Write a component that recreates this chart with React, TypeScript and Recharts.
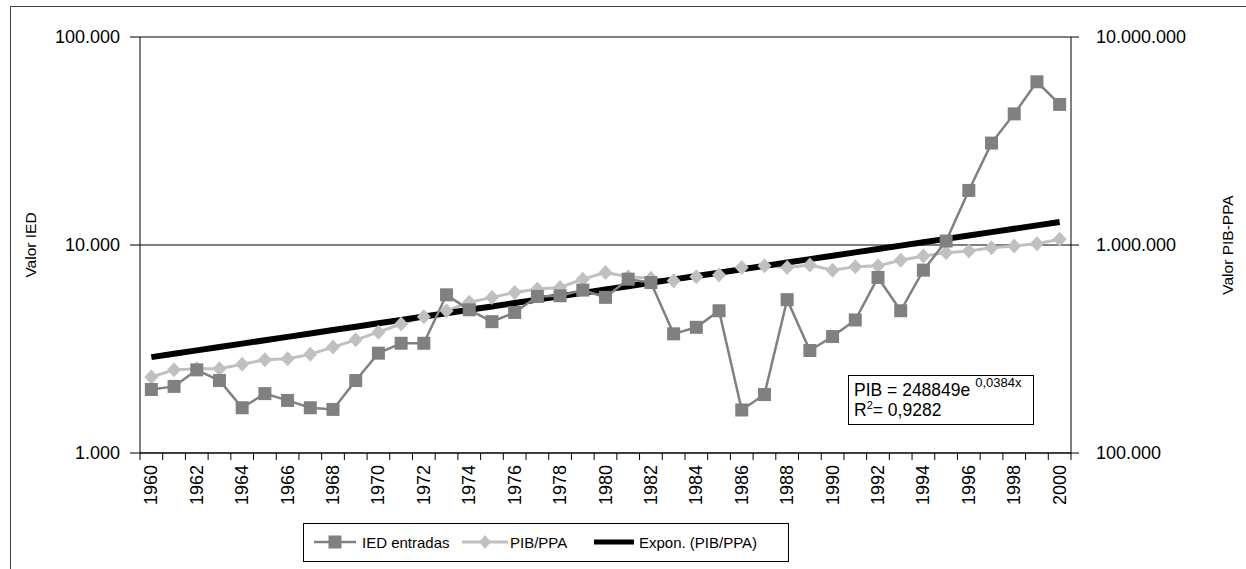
import React from 'react';
import {
  LineChart, Line, XAxis, YAxis, CartesianGrid, Legend,
} from 'recharts';

// Years on the category axis
const years = [
  1960, 1961, 1962, 1963, 1964, 1965, 1966, 1967, 1968, 1969,
  1970, 1971, 1972, 1973, 1974, 1975, 1976, 1977, 1978, 1979,
  1980, 1981, 1982, 1983, 1984, 1985, 1986, 1987, 1988, 1989,
  1990, 1991, 1992, 1993, 1994, 1995, 1996, 1997, 1998, 1999,
  2000,
];

// IED entradas (left axis, log)
const iedEntradas = [
  2020, 2090, 2510, 2230, 1650, 1930, 1790, 1650, 1620, 2230,
  3020, 3370, 3370, 5760, 4880, 4280, 4740, 5660, 5700, 6070,
  5600, 6850, 6600, 3740, 4020, 4830, 1610, 1910, 5460, 3110,
  3630, 4360, 6980, 4830, 7570, 10450, 18300, 30900, 42700, 60900,
  47400,
];

// PIB/PPA (right axis, log)
const pibPpa = [
  232000, 251000, 254000, 254000, 267000, 281000, 284000, 298000, 323000, 350000,
  381000, 417000, 452000, 483000, 530000, 560000, 591000, 614000, 625000, 685000,
  737000, 703000, 693000, 673000, 703000, 718000, 779000, 794000, 779000, 802000,
  757000, 787000, 794000, 845000, 885000, 919000, 936000, 970000, 989000, 1013000,
  1065000,
];

// Expon. (PIB/PPA) trend line
const pibTrend = [
  289000, 300100, 311500, 323400, 335700, 348500, 361700, 375600, 389900, 404800,
  420200, 436200, 452900, 470100, 488100, 506600, 525900, 546100, 566900, 588500,
  610900, 634000, 658200, 683300, 709400, 736200, 764200, 793400, 823600, 855100,
  887600, 921400, 956600, 992900, 1030900, 1070000, 1110600, 1153000, 1196900, 1242700,
  1290000,
];

const leftTicks = [1000, 10000, 100000];
const rightTicks = [100000, 1000000, 10000000];
const labelYears = years.filter((y) => y % 2 === 0);

const chartData = years.map((year, i) => ({
  year,
  ied: iedEntradas[i],
  pib: pibPpa[i],
  trend: pibTrend[i],
}));

const FONT = '"Liberation Sans", Arial, sans-serif';
const IED_COLOR = '#808080';
const PIB_COLOR = '#c0c0c0';

// thousands with dots, like 10.000.000
const fmt = (v: number) => String(Math.round(v)).replace(/\B(?=(\d{3})+(?!\d))/g, '.');

const xTicks = [...years.map((y) => y - 0.5), years[years.length - 1] + 0.5, ...labelYears];

const XTick = (props: any) => {
  const { x, y, payload } = props;
  const v = payload.value;
  if (v % 1 !== 0) {
    return <line x1={x} y1={y} x2={x} y2={y + 7} stroke="#000" />;
  }
  if (v % 2 === 0) {
    const ty = y + 12;
    return (
      <text
        x={x}
        y={ty}
        transform={`rotate(-90, ${x}, ${ty})`}
        textAnchor="end"
        dominantBaseline="central"
        fontFamily={FONT}
        fontSize={18}
        fill="#000"
      >
        {v}
      </text>
    );
  }
  return <g />;
};

const SquareDot = (props: any) => {
  const { cx, cy } = props;
  if (cx == null || cy == null) return <g />;
  return <rect x={cx - 6.5} y={cy - 6.5} width={13} height={13} fill={IED_COLOR} />;
};

const DiamondDot = (props: any) => {
  const { cx, cy } = props;
  if (cx == null || cy == null) return <g />;
  return (
    <polygon
      points={`${cx},${cy - 7.5} ${cx + 7},${cy} ${cx},${cy + 7.5} ${cx - 7},${cy}`}
      fill={PIB_COLOR}
    />
  );
};

const AxisTitle = ({ viewBox, text, dx }: any) => {
  const x = viewBox.x + dx;
  const y = viewBox.y + viewBox.height / 2;
  return (
    <text
      x={x}
      y={y}
      transform={`rotate(-90, ${x}, ${y})`}
      textAnchor="middle"
      dominantBaseline="central"
      fontFamily={FONT}
      fontSize={15.5}
      fill="#000"
    >
      {text}
    </text>
  );
};

const renderLegend = () => (
  <div
    style={{
      width: 486, height: 39, border: '1px solid #000', boxSizing: 'border-box',
      background: '#fff', position: 'relative',
    }}
  >
    <svg width={484} height={37} style={{ position: 'absolute', left: 0, top: 0 }}>
      <line x1={10} y1={18} x2={52} y2={18} stroke={IED_COLOR} strokeWidth={2.5} />
      <rect x={24.5} y={11.5} width={13} height={13} fill={IED_COLOR} />
      <text x={58} y={18} dominantBaseline="central" fontFamily={FONT} fontSize={15}>IED entradas</text>
      <line x1={158} y1={18} x2={204} y2={18} stroke={PIB_COLOR} strokeWidth={3} />
      <polygon points="181,11 187,18 181,25 175,18" fill={PIB_COLOR} />
      <text x={206} y={18} dominantBaseline="central" fontFamily={FONT} fontSize={15}>PIB/PPA</text>
      <line x1={290} y1={18} x2={330} y2={18} stroke="#000" strokeWidth={5} />
      <text x={335} y={18} dominantBaseline="central" fontFamily={FONT} fontSize={15}>Expon. (PIB/PPA)</text>
    </svg>
  </div>
);

export default function App() {
  return (
    <div
      style={{
        position: 'absolute', left: 0, top: 0, width: 1246, height: 569,
        background: '#fff', overflow: 'hidden', fontFamily: FONT,
      }}
    >
      <div
        style={{
          position: 'absolute', left: 10, top: 6, width: 1260, height: 620,
          border: '1px solid #404040',
        }}
      />
      <LineChart
        width={1246}
        height={569}
        data={chartData}
        margin={{ top: 37, right: 0, left: 10, bottom: 7 }}
      >
        <CartesianGrid vertical={false} stroke="#000" yAxisId="left" />
        <XAxis
          dataKey="year"
          type="number"
          domain={[1959.5, 2000.5]}
          ticks={xTicks}
          interval={0}
          tick={<XTick />}
          tickLine={false}
          tickSize={0}
          tickMargin={0}
          height={70}
          axisLine={{ stroke: '#000' }}
        />
        <YAxis
          yAxisId="left"
          scale="log"
          domain={[1000, 100000]}
          ticks={leftTicks}
          tickFormatter={fmt}
          width={130}
          tickSize={10}
          tickMargin={10}
          axisLine={{ stroke: '#000' }}
          tickLine={{ stroke: '#000' }}
          tick={{ fill: '#000', fontSize: 18, fontFamily: FONT }}
          allowDataOverflow
          label={<AxisTitle text="Valor IED" dx={20} />}
        />
        <YAxis
          yAxisId="right"
          orientation="right"
          scale="log"
          domain={[100000, 10000000]}
          ticks={rightTicks}
          tickFormatter={fmt}
          width={175}
          tickSize={8}
          tickMargin={17}
          axisLine={{ stroke: '#000' }}
          tickLine={{ stroke: '#000' }}
          tick={{ fill: '#000', fontSize: 18, fontFamily: FONT, textAnchor: 'start' }}
          allowDataOverflow
          label={<AxisTitle text="Valor PIB-PPA" dx={156} />}
        />
        <Legend
          verticalAlign="bottom"
          content={renderLegend}
          wrapperStyle={{ left: 303, bottom: 7, width: 486, height: 39 }}
        />
        <Line
          yAxisId="right"
          dataKey="pib"
          name="PIB/PPA"
          stroke={PIB_COLOR}
          strokeWidth={3}
          dot={<DiamondDot />}
          activeDot={false}
          isAnimationActive={false}
        />
        <Line
          yAxisId="right"
          dataKey="trend"
          name="Expon. (PIB/PPA)"
          stroke="#000"
          strokeWidth={6}
          dot={false}
          activeDot={false}
          isAnimationActive={false}
        />
        <Line
          yAxisId="left"
          dataKey="ied"
          name="IED entradas"
          stroke={IED_COLOR}
          strokeWidth={2.5}
          dot={<SquareDot />}
          activeDot={false}
          isAnimationActive={false}
        />
      </LineChart>
      <div
        style={{
          position: 'absolute', left: 848, top: 375, width: 186, height: 50,
          border: '1px solid #000', boxSizing: 'border-box', background: '#fff',
          fontSize: 17.5, lineHeight: '19px', padding: '5px 0 0 5px', color: '#000',
        }}
      >
        <div>
          PIB = 248849e{' '}
          <span style={{ fontSize: 13, position: 'relative', top: -9 }}>0,0384x</span>
        </div>
        <div>
          R<span style={{ fontSize: 11, position: 'relative', top: -7 }}>2</span>= 0,9282
        </div>
      </div>
    </div>
  );
}
